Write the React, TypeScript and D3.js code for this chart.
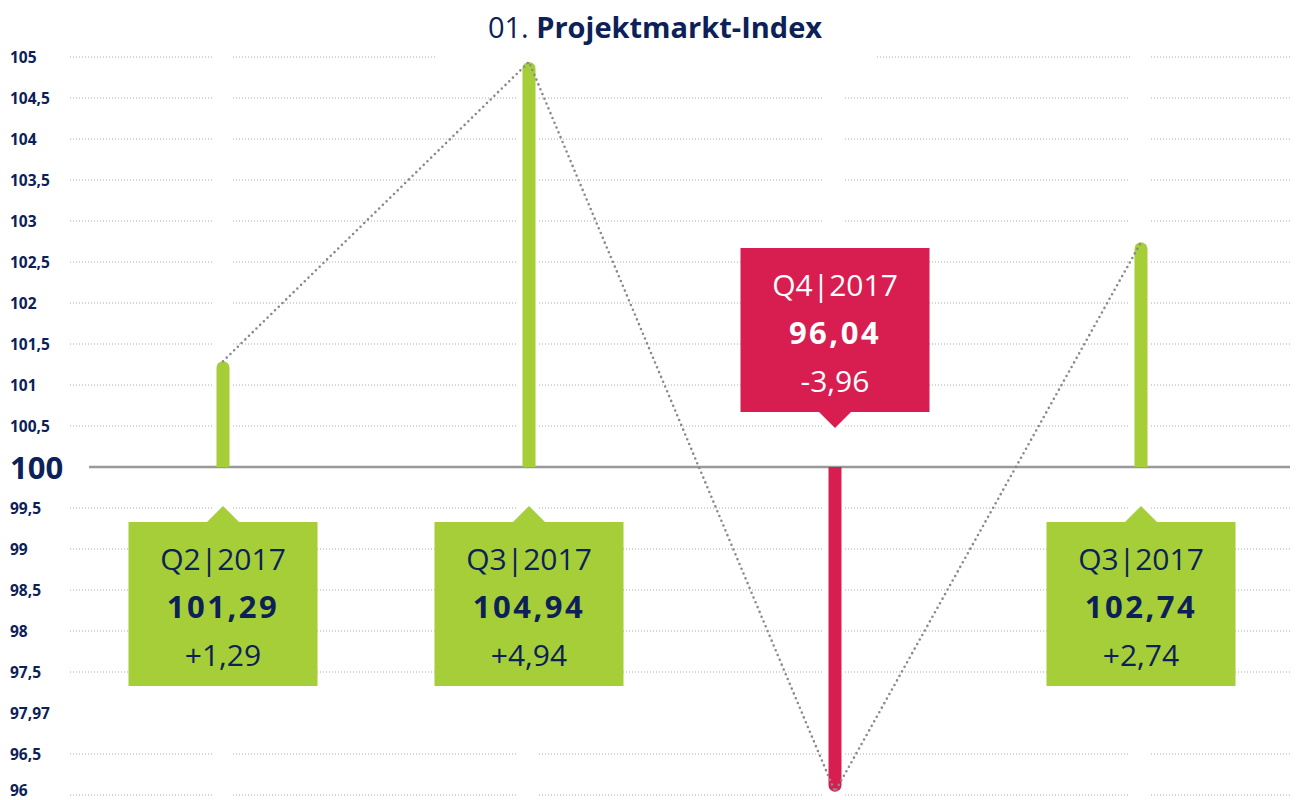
import React from "react";
import * as d3 from "d3";

const quarters = ["Q2|2017", "Q3|2017", "Q4|2017", "Q3|2017"];
const values = [101.29, 104.94, 96.04, 102.74];
const changes = ["+1,29", "+4,94", "-3,96", "+2,74"];
const tickValues = [105, 104.5, 104, 103.5, 103, 102.5, 102, 101.5, 101, 100.5, 100, 99.5, 99, 98.5, 98, 97.5, 97, 96.5, 96];
const tickLabels = ["105", "104,5", "104", "103,5", "103", "102,5", "102", "101,5", "101", "100,5", "100", "99,5", "99", "98,5", "98", "97,5", "97,97", "96,5", "96"];
const noGrid = [97];

const NAVY = "#0c2157";
const GREEN = "#a6ce39";
const RED = "#d81e50";
const FONT = "'Open Sans', 'Noto Sans', sans-serif";

export default function App() {
  const W = 1297, H = 800;
  const y = d3.scaleLinear().domain([96, 105]).range([795, 57]);
  const x = d3.scaleLinear().domain([0, values.length - 1]).range([223, 1141]);
  const gridX0 = 70, gridX1 = 1291;
  const base = y(100);

  const gridSegments = (v: number) => {
    const gaps = values.map((_, i) => [x(i) - 11, x(i) + 10]);
    if (v === 105) gaps.push([436, 877]);
    gaps.sort((a, b) => a[0] - b[0]);
    const segs: [number, number][] = [];
    let s = gridX0;
    gaps.forEach(([a, b]) => {
      if (a > s) segs.push([s, a]);
      s = Math.max(s, b);
    });
    if (s < gridX1) segs.push([s, gridX1]);
    return segs;
  };

  const line = d3.line<number>().x((_, i) => x(i)).y((d) => y(d));
  const barW = 13;
  const boxW = 189, boxH = 164, tri = 16;

  return (
    <svg width={W} height={H} style={{ position: "absolute", left: 0, top: 0, background: "#fff" }} fontFamily={FONT}>
      <text x={655} y={38} textAnchor="middle" fontSize={29} fill={NAVY}>
        <tspan fontWeight={400}>01. </tspan>
        <tspan fontWeight={700}>Projektmarkt-Index</tspan>
      </text>

      {tickValues.map((v, i) => (
        <g key={"t" + i}>
          <text x={10} y={Math.min(y(v), 790)} dominantBaseline="central" fontSize={v === 100 ? 31 : 15.5} fontWeight={700} fill={NAVY}>
            {tickLabels[i]}
          </text>
          {v !== 100 && !noGrid.includes(v) &&
            gridSegments(v).map(([a, b], j) => (
              <line key={j} x1={a} x2={b} y1={y(v)} y2={y(v)} stroke="#aaa" strokeWidth={1} strokeDasharray="1,2" />
            ))}
        </g>
      ))}

      <line x1={89} x2={1290} y1={base} y2={base} stroke="#999" strokeWidth={2.5} />

      {values.map((v, i) => {
        const up = v >= 100;
        const top = Math.min(y(v), base);
        const h = Math.abs(y(v) - base);
        const r = barW / 2;
        const cx = x(i);
        const d = up
          ? `M${cx - r},${base} L${cx - r},${top + r} A${r},${r} 0 0 1 ${cx + r},${top + r} L${cx + r},${base} Z`
          : `M${cx - r},${base} L${cx - r},${top + h - r} A${r},${r} 0 0 0 ${cx + r},${top + h - r} L${cx + r},${base} Z`;
        return <path key={"b" + i} d={d} fill={up ? GREEN : RED} />;
      })}

      <path d={line(values) || ""} fill="none" stroke="#8a8a8a" strokeWidth={2.6} strokeDasharray="0,5.2" strokeLinecap="round" />

      {values.map((v, i) => {
        const up = v >= 100;
        const cx = x(i);
        const color = up ? GREEN : RED;
        const txt = up ? NAVY : "#fff";
        const boxTop = up ? base + 55 : base - 55 - boxH;
        const triPts = up
          ? `${cx - tri},${boxTop} ${cx},${boxTop - tri} ${cx + tri},${boxTop}`
          : `${cx - tri},${boxTop + boxH} ${cx},${boxTop + boxH + tri} ${cx + tri},${boxTop + boxH}`;
        return (
          <g key={"c" + i}>
            <rect x={cx - boxW / 2} y={boxTop} width={boxW} height={boxH} fill={color} />
            <polygon points={triPts} fill={color} />
            <text x={cx} y={boxTop + 36} textAnchor="middle" dominantBaseline="central" fontSize={30} fontWeight={400} fill={txt}>
              {quarters[i]}
            </text>
            <text x={cx} y={boxTop + 84} textAnchor="middle" dominantBaseline="central" fontSize={31} fontWeight={700} letterSpacing={2.5} fill={txt}>
              {d3.format(".2f")(v).replace(".", ",")}
            </text>
            <text x={cx} y={boxTop + 132} textAnchor="middle" dominantBaseline="central" fontSize={30} fontWeight={400} fill={txt}>
              {changes[i]}
            </text>
          </g>
        );
      })}
    </svg>
  );
}
